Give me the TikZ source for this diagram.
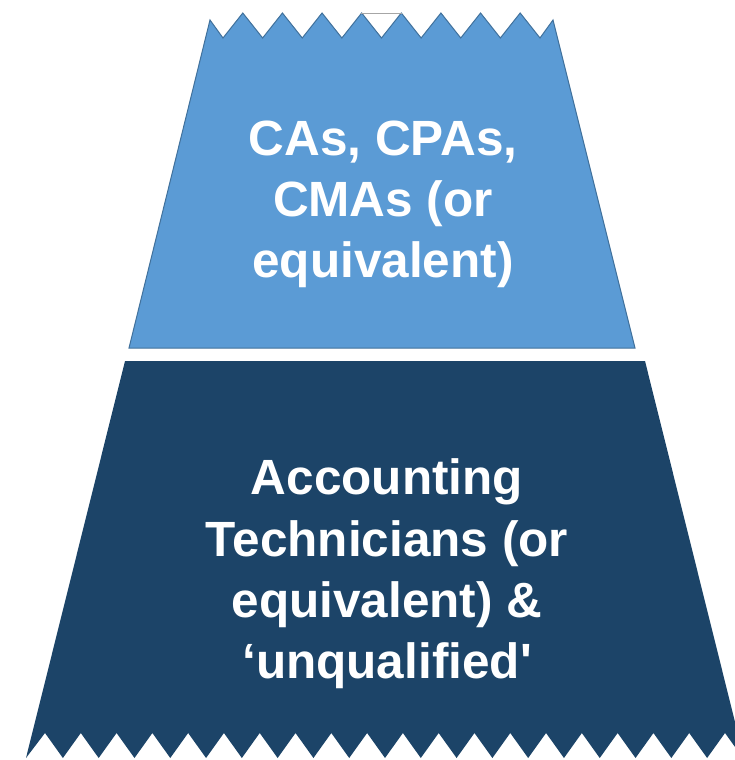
\documentclass[tikz,border=0pt]{standalone}
\usepackage{fontspec}
\setmainfont{Liberation Sans}[Ligatures=TeXOff]
\definecolor{lightblue}{HTML}{5B9BD5}
\definecolor{lightedge}{HTML}{41719C}
\definecolor{darkblue}{HTML}{1C4468}
\tikzset{
  label text/.style={text=white, font=\bfseries\fontsize{49.5}{61.2}\selectfont, align=center, inner sep=0pt, anchor=base},
}
\begin{document}
\begin{tikzpicture}[x=1pt,y=-1pt]
\useasboundingbox (0,0) rectangle (735,760);
\clip (0,0) rectangle (735,760);
% top tier
\fill[lightblue, draw=lightedge, line width=1pt, line join=miter]
  (210,20)
  \foreach \i in {0,...,7} { -- ({223+39.625*\i},38) -- ({242.8+39.625*\i},13) }
  -- (540,38) -- (553,20) -- (635,348) -- (129,348) -- cycle;
\draw[gray!70, line width=0.8pt] (361,13) -- (402,13);
% bottom tier
\fill[darkblue]
  (125,361) -- (645,361) -- (744,758)
  \foreach \i in {19,18,...,0} { -- ({45+35.79*\i+17.9},758) -- ({45+35.79*\i},733) }
  -- (26,758) -- cycle;
% texts
\node[label text] (top) at (383,277.5) {CAs, CPAs,\\CMAs (or\\equivalent)};
\node[label text] (bottom) at (387,678.5) {Accounting\\Technicians (or\\equivalent) \&\\‘unqualified'};
\end{tikzpicture}
\end{document}
